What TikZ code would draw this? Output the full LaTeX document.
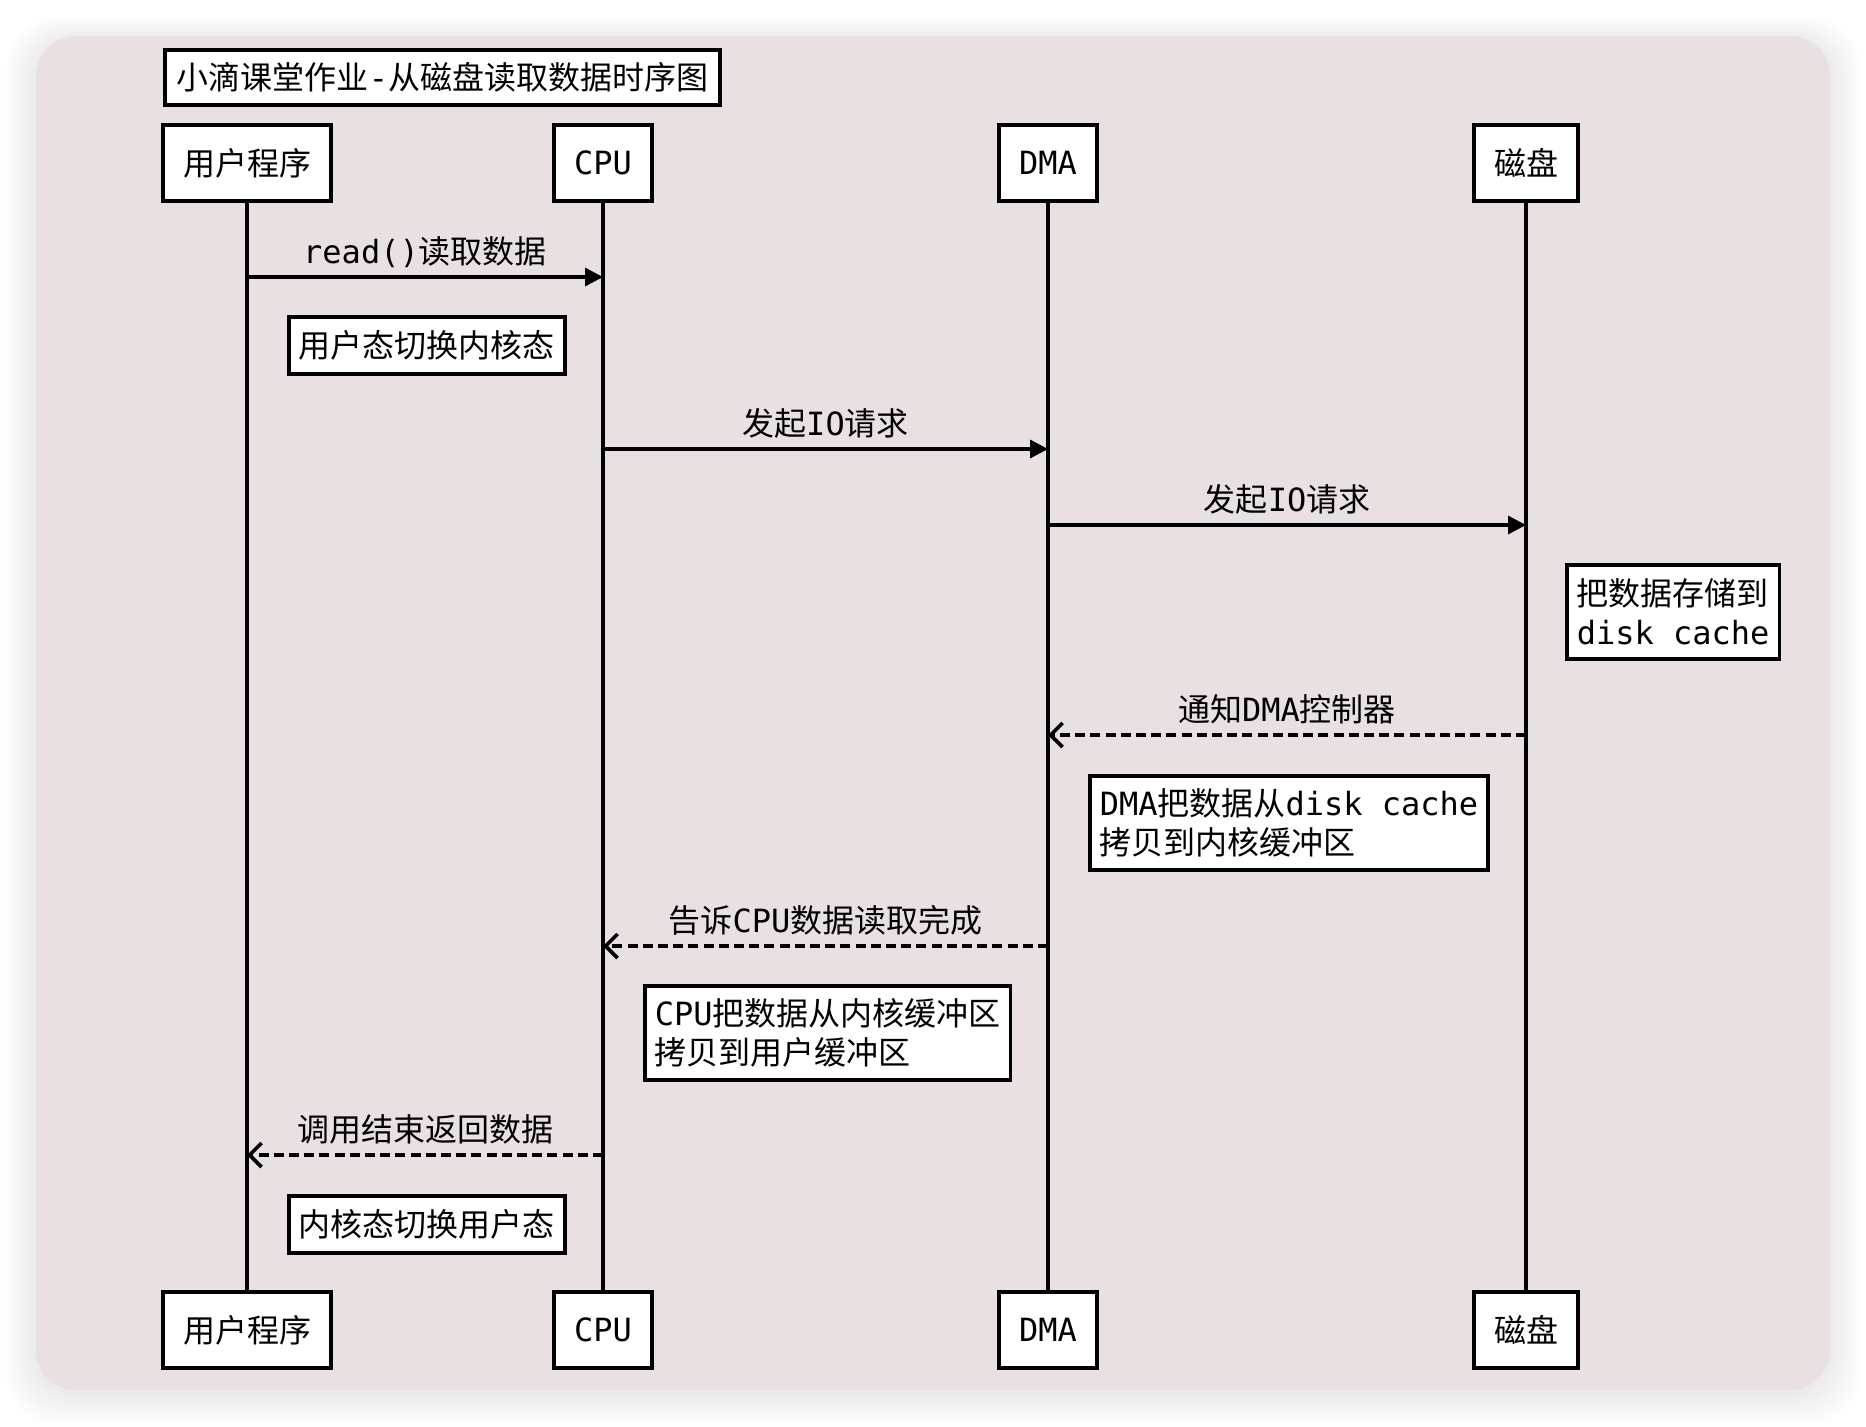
\documentclass[tikz,border=0pt]{standalone}
\usepackage{fontspec}
\setmainfont{Noto Sans CJK SC}
\newfontfamily\monofont{DejaVu Sans Mono}
\usetikzlibrary{arrows.meta}
\definecolor{panelfill}{HTML}{E9E0E1}
\newcommand\lt[1]{{\monofont #1}}
\newcommand\diagfont{\fontsize{16}{19.5}\selectfont}

\begin{document}
\begin{tikzpicture}[x=0.5pt, y=-0.5pt,
  actor/.style={draw, line width=2pt, fill=white, inner xsep=10pt,
                minimum height=38pt, font=\diagfont},
  titlebox/.style={draw, line width=1.8pt, fill=white, inner xsep=6pt,
                minimum height=27.5pt, anchor=west, font=\diagfont},
  note/.style={draw, line width=1.8pt, fill=white, inner xsep=5pt, align=left,
               anchor=west, minimum height=28.5pt, font=\diagfont},
  life/.style={line width=1.7pt},
  call/.style={line width=1.7pt, -{Triangle[length=9pt, width=9pt]}},
  reply/.style={line width=1.8pt, dash pattern=on 5pt off 2.6pt,
                -{Straight Barb[length=6pt, width=12pt, line width=1.8pt]}},
  lbl/.style={anchor=base, yshift=7pt, font=\diagfont},
]
\useasboundingbox (0,0) rectangle (1866,1426);
\fill[white] (0,0) rectangle (1866,1426);
% ---- panel with soft shadow
\foreach \i in {1,...,10}
  \fill[black, opacity=0.008, rounded corners=24pt]
    ({36-3*\i}, {38-2*\i}) rectangle ({1830+3*\i}, {1394+3*\i});
\fill[panelfill, rounded corners=20pt] (36,36) rectangle (1830,1390);
% ---- title
\node[titlebox] (title) at (163,77.5) {小滴课堂作业\lt{-}从磁盘读取数据时序图};
% ---- participants, top and bottom
\node[actor] (userT) at (247,163) {用户程序};
\node[actor] (cpuT) at (603,163) {\lt{CPU}};
\node[actor] (dmaT) at (1048,163) {\lt{DMA}};
\node[actor] (diskT) at (1526,163) {磁盘};
\node[actor] (userB) at (247,1330) {用户程序};
\node[actor] (cpuB) at (603,1330) {\lt{CPU}};
\node[actor] (dmaB) at (1048,1330) {\lt{DMA}};
\node[actor] (diskB) at (1526,1330) {磁盘};
% ---- lifelines
\foreach \p in {user, cpu, dma, disk}
  \draw[life] (\p T.south) -- (\p B.north);
% ---- message rows
\coordinate (m1) at (0,277);
\coordinate (m2) at (0,449);
\coordinate (m3) at (0,525);
\coordinate (m4) at (0,735);
\coordinate (m5) at (0,946);
\coordinate (m6) at (0,1155);
\draw[call] (userT |- m1) -- node[lbl] {\lt{read()}读取数据} (cpuT |- m1);
\node[note] (toKernel) at (287,345.5) {用户态切换内核态};
\draw[call] (cpuT |- m2) -- node[lbl] {发起\lt{IO}请求} (dmaT |- m2);
\draw[call] (dmaT |- m3) -- node[lbl] {发起\lt{IO}请求} (diskT |- m3);
\node[note, minimum height=47pt] (diskCache) at (1565,612) {把数据存储到\\\lt{disk cache}};
\draw[reply] (diskT |- m4) -- node[lbl] {通知\lt{DMA}控制器} (dmaT |- m4);
\node[note, minimum height=47pt] (dmaCopy) at (1088,823) {\lt{DMA}把数据从\lt{disk cache}\\拷贝到内核缓冲区};
\draw[reply] (dmaT |- m5) -- node[lbl] {告诉\lt{CPU}数据读取完成} (cpuT |- m5);
\node[note, minimum height=47pt] (cpuCopy) at (643,1033) {\lt{CPU}把数据从内核缓冲区\\拷贝到用户缓冲区};
\draw[reply] (cpuT |- m6) -- node[lbl] {调用结束返回数据} (userT |- m6);
\node[note] (toUser) at (287,1224.5) {内核态切换用户态};
\end{tikzpicture}
\end{document}
